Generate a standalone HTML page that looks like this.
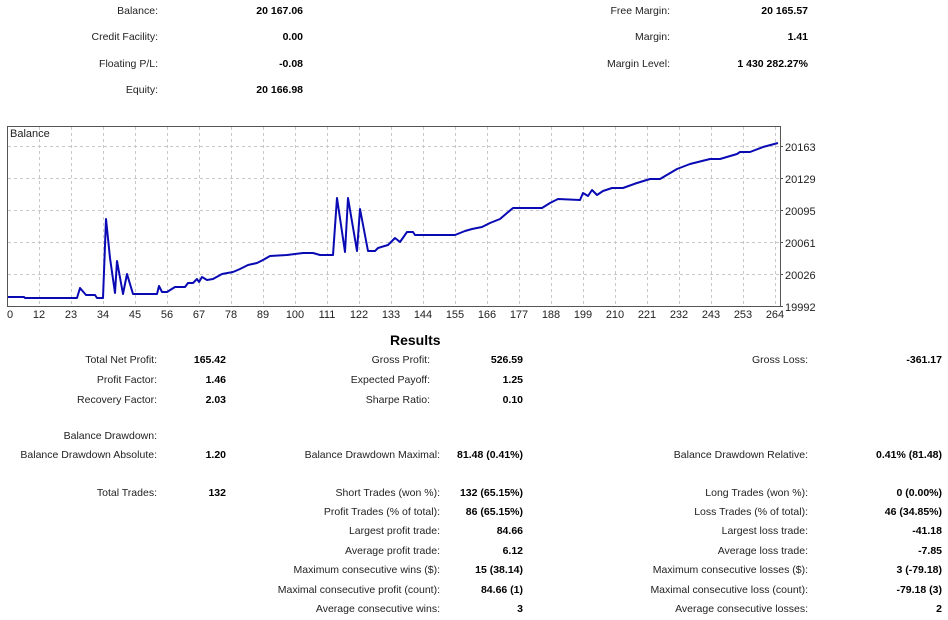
<!DOCTYPE html>
<html><head><meta charset="utf-8"><style>
body{margin:0;width:948px;height:620px;background:#fff;position:relative;overflow:hidden;font-family:"Liberation Sans",sans-serif;font-size:10.5px;color:#222;}
.t{position:absolute;white-space:nowrap;text-align:right;line-height:12px;margin-top:1px;}
.b{font-weight:bold;color:#000;}
</style></head><body>
<div class="t" style="right:790px;top:4px">Balance:</div><div class="t b" style="right:645px;top:4px">20 167.06</div>
<div class="t" style="right:790px;top:30px">Credit Facility:</div><div class="t b" style="right:645px;top:30px">0.00</div>
<div class="t" style="right:790px;top:57px">Floating P/L:</div><div class="t b" style="right:645px;top:57px">-0.08</div>
<div class="t" style="right:790px;top:83px">Equity:</div><div class="t b" style="right:645px;top:83px">20 166.98</div>
<div class="t" style="right:278px;top:4px">Free Margin:</div><div class="t b" style="right:140px;top:4px">20 165.57</div>
<div class="t" style="right:278px;top:30px">Margin:</div><div class="t b" style="right:140px;top:30px">1.41</div>
<div class="t" style="right:278px;top:57px">Margin Level:</div><div class="t b" style="right:140px;top:57px">1 430 282.27%</div>

<svg style="position:absolute;left:0;top:120px" width="948" height="205" viewBox="0 120 948 205">
<g stroke="#c8c8c8" stroke-dasharray="3,3" stroke-width="1">
<line x1="8" y1="146.5" x2="780" y2="146.5"/><line x1="8" y1="178.5" x2="780" y2="178.5"/><line x1="8" y1="210.5" x2="780" y2="210.5"/><line x1="8" y1="242.5" x2="780" y2="242.5"/><line x1="8" y1="274.5" x2="780" y2="274.5"/>
<line x1="39.5" y1="127" x2="39.5" y2="306"/><line x1="71.5" y1="127" x2="71.5" y2="306"/><line x1="103.5" y1="127" x2="103.5" y2="306"/><line x1="135.5" y1="127" x2="135.5" y2="306"/><line x1="167.5" y1="127" x2="167.5" y2="306"/><line x1="199.5" y1="127" x2="199.5" y2="306"/><line x1="231.5" y1="127" x2="231.5" y2="306"/><line x1="263.5" y1="127" x2="263.5" y2="306"/><line x1="295.5" y1="127" x2="295.5" y2="306"/><line x1="327.5" y1="127" x2="327.5" y2="306"/><line x1="359.5" y1="127" x2="359.5" y2="306"/><line x1="391.5" y1="127" x2="391.5" y2="306"/><line x1="423.5" y1="127" x2="423.5" y2="306"/><line x1="455.5" y1="127" x2="455.5" y2="306"/><line x1="487.5" y1="127" x2="487.5" y2="306"/><line x1="519.5" y1="127" x2="519.5" y2="306"/><line x1="551.5" y1="127" x2="551.5" y2="306"/><line x1="583.5" y1="127" x2="583.5" y2="306"/><line x1="615.5" y1="127" x2="615.5" y2="306"/><line x1="647.5" y1="127" x2="647.5" y2="306"/><line x1="679.5" y1="127" x2="679.5" y2="306"/><line x1="711.5" y1="127" x2="711.5" y2="306"/><line x1="743.5" y1="127" x2="743.5" y2="306"/><line x1="775.5" y1="127" x2="775.5" y2="306"/>
</g>
<rect x="7.5" y="126.5" width="773" height="180" fill="none" stroke="#555"/>
<g stroke="#555"><line x1="780" y1="146.5" x2="783" y2="146.5"/><line x1="780" y1="178.5" x2="783" y2="178.5"/><line x1="780" y1="210.5" x2="783" y2="210.5"/><line x1="780" y1="242.5" x2="783" y2="242.5"/><line x1="780" y1="274.5" x2="783" y2="274.5"/><line x1="780" y1="306.5" x2="783" y2="306.5"/></g>
<polyline fill="none" stroke="#0a0ab4" stroke-width="2" stroke-linejoin="round" points="8,297 24,297 25,298 68,298 77,298 80,288 86,295 95,295 97,298 103,298 106,219 110,258 115,293 117,261 123,294 127,274 133,294 157,294 159,286 162,292 167,292 175,287 185,287 188,283 193,283 197,279 199,282 202,277 207,280 213,279 222,274 233,272 240,269 248,265 257,263 263,260 270,256 287,255 303,253 313,253 320,255 333,255 337,198 345,252 348,198 357,251 360,209 368,251 375,251 378,248 388,245 395,238 400,242 407,232 413,232 415,235 455,235 460,233 465,231 472,229 482,227 490,223 500,219 507,213 513,208 542,208 550,203 558,199 580,200 583,193 588,196 592,190 597,195 603,191 612,188 623,188 637,183 650,179 660,179 677,169 690,164 710,159 720,159 737,154 740,152 750,152 763,147 778,143"/>
<g font-family="Liberation Sans, sans-serif" font-size="11" fill="#222">
<text x="10" y="137">Balance</text>
<g text-anchor="middle">
<text x="10" y="318">0</text><text x="39" y="318">12</text><text x="71" y="318">23</text><text x="103" y="318">34</text><text x="135" y="318">45</text><text x="167" y="318">56</text><text x="199" y="318">67</text><text x="231" y="318">78</text><text x="263" y="318">89</text><text x="295" y="318">100</text><text x="327" y="318">111</text><text x="359" y="318">122</text><text x="391" y="318">133</text><text x="423" y="318">144</text><text x="455" y="318">155</text><text x="487" y="318">166</text><text x="519" y="318">177</text><text x="551" y="318">188</text><text x="583" y="318">199</text><text x="615" y="318">210</text><text x="647" y="318">221</text><text x="679" y="318">232</text><text x="711" y="318">243</text><text x="743" y="318">253</text><text x="775" y="318">264</text>
</g>
<text x="785" y="151">20163</text><text x="785" y="183">20129</text><text x="785" y="215">20095</text><text x="785" y="247">20061</text><text x="785" y="279">20026</text><text x="785" y="311">19992</text>
</g>
</svg>

<div class="t b" style="left:390px;top:331px;font-size:14px;line-height:16px;text-align:left">Results</div>

<div class="t" style="right:791px;top:353px">Total Net Profit:</div><div class="t b" style="right:722px;top:353px">165.42</div>
<div class="t" style="right:791px;top:373px">Profit Factor:</div><div class="t b" style="right:722px;top:373px">1.46</div>
<div class="t" style="right:791px;top:393px">Recovery Factor:</div><div class="t b" style="right:722px;top:393px">2.03</div>
<div class="t" style="right:791px;top:429px">Balance Drawdown:</div>
<div class="t" style="right:791px;top:448px">Balance Drawdown Absolute:</div><div class="t b" style="right:722px;top:448px">1.20</div>
<div class="t" style="right:791px;top:486px">Total Trades:</div><div class="t b" style="right:722px;top:486px">132</div>

<div class="t" style="right:518px;top:353px">Gross Profit:</div><div class="t b" style="right:425px;top:353px">526.59</div>
<div class="t" style="right:518px;top:373px">Expected Payoff:</div><div class="t b" style="right:425px;top:373px">1.25</div>
<div class="t" style="right:518px;top:393px">Sharpe Ratio:</div><div class="t b" style="right:425px;top:393px">0.10</div>
<div class="t" style="right:508px;top:448px">Balance Drawdown Maximal:</div><div class="t b" style="right:425px;top:448px">81.48 (0.41%)</div>
<div class="t" style="right:508px;top:486px">Short Trades (won %):</div><div class="t b" style="right:425px;top:486px">132 (65.15%)</div>
<div class="t" style="right:508px;top:505px">Profit Trades (% of total):</div><div class="t b" style="right:425px;top:505px">86 (65.15%)</div>
<div class="t" style="right:508px;top:524px">Largest profit trade:</div><div class="t b" style="right:425px;top:524px">84.66</div>
<div class="t" style="right:508px;top:544px">Average profit trade:</div><div class="t b" style="right:425px;top:544px">6.12</div>
<div class="t" style="right:508px;top:563px">Maximum consecutive wins ($):</div><div class="t b" style="right:425px;top:563px">15 (38.14)</div>
<div class="t" style="right:508px;top:583px">Maximal consecutive profit (count):</div><div class="t b" style="right:425px;top:583px">84.66 (1)</div>
<div class="t" style="right:508px;top:602px">Average consecutive wins:</div><div class="t b" style="right:425px;top:602px">3</div>

<div class="t" style="right:140px;top:353px">Gross Loss:</div><div class="t b" style="right:6px;top:353px">-361.17</div>
<div class="t" style="right:140px;top:448px">Balance Drawdown Relative:</div><div class="t b" style="right:6px;top:448px">0.41% (81.48)</div>
<div class="t" style="right:140px;top:486px">Long Trades (won %):</div><div class="t b" style="right:6px;top:486px">0 (0.00%)</div>
<div class="t" style="right:140px;top:505px">Loss Trades (% of total):</div><div class="t b" style="right:6px;top:505px">46 (34.85%)</div>
<div class="t" style="right:140px;top:524px">Largest loss trade:</div><div class="t b" style="right:6px;top:524px">-41.18</div>
<div class="t" style="right:140px;top:544px">Average loss trade:</div><div class="t b" style="right:6px;top:544px">-7.85</div>
<div class="t" style="right:140px;top:563px">Maximum consecutive losses ($):</div><div class="t b" style="right:6px;top:563px">3 (-79.18)</div>
<div class="t" style="right:140px;top:583px">Maximal consecutive loss (count):</div><div class="t b" style="right:6px;top:583px">-79.18 (3)</div>
<div class="t" style="right:140px;top:602px">Average consecutive losses:</div><div class="t b" style="right:6px;top:602px">2</div>
</body></html>
